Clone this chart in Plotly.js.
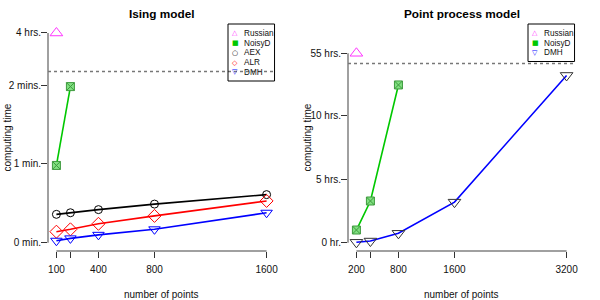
<!DOCTYPE html>
<html>
<head>
<meta charset="utf-8">
<script src="https://cdn.plot.ly/plotly-3.0.1.min.js"></script>
<style>html,body{margin:0;padding:0;background:#fff}#chart{width:600px;height:300px}</style>
</head>
<body>
<div id="chart"></div>
<script>
// ---------- data ----------
// Ising model panel (y in minutes; top of axis is broken, "4 hrs." sits at the last tick)
const isingX = [100, 200, 400, 800, 1600];
const isingXTickLabels = ['100', '', '400', '800', '1600'];
const isingYTickVals = [0, 1, 2, 2.66];
const isingYTickText = ['0 min.', '1 min.', '2 mins.', '4 hrs.'];
const isingBreak = 2.17;
const isingRussianX = [100];
const isingRussianY = [2.66];          // = "4 hrs." on the broken axis
const isingNoisyDX = [100, 200];
const isingNoisyDY = [0.98, 1.98];
const isingAEX = [0.36, 0.38, 0.42, 0.49, 0.61];
const isingALR = [0.14, 0.17, 0.24, 0.34, 0.53];
const isingDMH = [0.025, 0.055, 0.10, 0.17, 0.38];

// Point process panel (y in hours; "55 hrs." sits at the last tick)
const ppX = [200, 400, 800, 1600, 3200];
const ppXTickLabels = ['200', '', '800', '1600', '3200'];
const ppYTickVals = [0, 5, 10, 14.95];
const ppYTickText = ['0 hr.', '5 hrs.', '10 hrs.', '55 hrs.'];
const ppBreak = 14.15;
const ppRussianX = [200];
const ppRussianY = [14.95];            // = "55 hrs." on the broken axis
const ppNoisyDX = [200, 400, 800];
const ppNoisyDY = [1.0, 3.29, 12.45];
const ppDMH = [0.03, 0.13, 0.74, 3.2, 13.2];

const legendIsing = ['Russian', 'NoisyD', 'AEX', 'ALR', 'DMH'];
const legendPP = ['Russian', 'NoisyD', 'DMH'];

// ---------- styles ----------
const COL = {Russian: '#ff33ff', NoisyD: '#00c800', AEX: '#000000', ALR: '#ff0000', DMH: '#0000ff'};
const GLYPH = {Russian: '\u25B3', NoisyD: '\u25A0', AEX: '\u25CB', ALR: '\u25C7', DMH: '\u25BD'};
const FONT = 'Liberation Sans, Arial, sans-serif';

function line(x, y, color, symbol, size, mcolor, xa, ya, extra) {
  const t = {
    x: x, y: y, xaxis: xa, yaxis: ya, type: 'scatter', mode: 'lines+markers',
    line: {color: color, width: 1.6},
    marker: {symbol: symbol, size: size, color: mcolor || color, line: {width: 1, color: mcolor || color}},
    showlegend: false, hoverinfo: 'skip'
  };
  return Object.assign(t, extra || {});
}
const noisyMarker = {symbol: 'square-x', size: 8, color: '#80e080', line: {width: 1, color: '#3f9a3f'}};

const data = [
  // Ising
  Object.assign(line(isingNoisyDX, isingNoisyDY, COL.NoisyD, 'square-x', 8, null, 'x', 'y'), {marker: noisyMarker}),
  line(isingX, isingAEX, COL.AEX, 'circle-open', 8, null, 'x', 'y'),
  line(isingX, isingALR, COL.ALR, 'diamond-open', 10, null, 'x', 'y'),
  line(isingX, isingDMH, COL.DMH, 'triangle-down-open', 10, null, 'x', 'y'),
  {x: isingRussianX, y: isingRussianY, xaxis: 'x', yaxis: 'y', type: 'scatter', mode: 'markers',
   marker: {symbol: 'triangle-up-open', size: 11, color: COL.Russian, line: {width: 1}}, showlegend: false, hoverinfo: 'skip'},
  // Point process
  Object.assign(line(ppNoisyDX, ppNoisyDY, COL.NoisyD, 'square-x', 8, null, 'x2', 'y2'), {marker: noisyMarker}),
  line(ppX, ppDMH, COL.DMH, 'triangle-down-open', 11, '#333333', 'x2', 'y2'),
  {x: ppRussianX, y: ppRussianY, xaxis: 'x2', yaxis: 'y2', type: 'scatter', mode: 'markers',
   marker: {symbol: 'triangle-up-open', size: 11, color: COL.Russian, line: {width: 1}}, showlegend: false, hoverinfo: 'skip'}
];

// ---------- layout ----------
const plotTop = 24, plotBottom = 251, W = 600, H = 300;
const yDom = [(H - plotBottom) / H, (H - plotTop) / H];
const xDom1 = [48 / W, 275 / W];
const xDom2 = [348 / W, 575 / W];

function xaxis(dom, range, vals, text) {
  return {domain: dom, range: range, tickmode: 'array', tickvals: vals, ticktext: text,
    ticks: 'outside', ticklen: 6, tickwidth: 1, tickcolor: '#333', showline: false,
    showgrid: false, zeroline: false, tickfont: {family: FONT, size: 10, color: '#111'},
    ticklabelstandoff: 3, fixedrange: true};
}
function yaxis(anchor, range, vals, text) {
  return {domain: yDom, anchor: anchor, range: range, tickmode: 'array', tickvals: vals, ticktext: text,
    ticks: 'outside', ticklen: 6, tickwidth: 1, tickcolor: '#333', showline: false,
    showgrid: false, zeroline: false, tickfont: {family: FONT, size: 10, color: '#111'},
    ticklabelstandoff: -2, fixedrange: true};
}

const shapes = [];
const annotations = [];
function panelDecor(xa, ya, xVals, yVals, breakY) {
  // R-style axis lines spanning first to last tick
  shapes.push({type: 'line', xref: xa + ' domain', yref: ya, x0: 0, x1: 0,
    y0: yVals[0], y1: yVals[yVals.length - 1], line: {color: '#a0a0a0', width: 2}});
  shapes.push({type: 'line', xref: xa, yref: ya + ' domain', x0: xVals[0], x1: xVals[xVals.length - 1],
    y0: 0, y1: 0, line: {color: '#a0a0a0', width: 2}});
  // axis break line
  shapes.push({type: 'line', xref: xa + ' domain', yref: ya, x0: 0, x1: 1, y0: breakY, y1: breakY,
    line: {color: '#777', width: 1.5, dash: 'dot'}});
}
panelDecor('x', 'y', isingX, isingYTickVals, isingBreak);
panelDecor('x2', 'y2', ppX, ppYTickVals, ppBreak);

function legendBox(xa, ya, names) {
  const itemH = 9.75 / 227, firstY = (plotBottom - 33.3) / 227;
  const bottom = firstY - itemH * (names.length - 1) - 8.7 / 227;
  shapes.push({type: 'rect', xref: xa + ' domain', yref: ya + ' domain', x0: 0.793, x1: 0.998,
    y0: bottom, y1: 1.0, line: {color: '#000', width: 1}, fillcolor: 'rgba(0,0,0,0)'});
  names.forEach((n, i) => {
    const yy = firstY - i * itemH;
    annotations.push({xref: xa + ' domain', yref: ya + ' domain', x: 0.825, y: yy, xanchor: 'center', yanchor: 'middle',
      text: GLYPH[n], showarrow: false, font: {family: 'DejaVu Sans', size: 7, color: COL[n]}});
    annotations.push({xref: xa + ' domain', yref: ya + ' domain', x: 0.853, y: yy, xanchor: 'left', yanchor: 'middle',
      text: n, showarrow: false, font: {family: FONT, size: 8.2, color: '#111'}});
  });
}
legendBox('x', 'y', legendIsing);
legendBox('x2', 'y2', legendPP);

function titles(dom, title, xOffsetPx) {
  const cx = (dom[0] + dom[1]) / 2;
  annotations.push({xref: 'paper', yref: 'paper', x: cx, y: (H - 14) / H, xanchor: 'center', yanchor: 'middle',
    text: '<b>' + title + '</b>', showarrow: false, font: {family: FONT, size: 11.8, color: '#000'}});
  annotations.push({xref: 'paper', yref: 'paper', x: cx, y: (H - 294) / H, xanchor: 'center', yanchor: 'middle',
    text: 'number of points', showarrow: false, font: {family: FONT, size: 10, color: '#111'}});
  annotations.push({xref: 'paper', yref: 'paper', x: (xOffsetPx + 7) / W, y: (yDom[0] + yDom[1]) / 2,
    xanchor: 'center', yanchor: 'middle', textangle: -90,
    text: 'computing time', showarrow: false, font: {family: FONT, size: 10, color: '#111'}});
}
titles(xDom1, 'Ising model', 0);
titles(xDom2, 'Point process model', 300);

const layout = {
  width: W, height: H, margin: {l: 0, r: 0, t: 0, b: 0},
  paper_bgcolor: '#fff', plot_bgcolor: '#fff', showlegend: false,
  xaxis: xaxis(xDom1, [40, 1660], isingX, isingXTickLabels),
  yaxis: yaxis('x', [-0.105, 2.774], isingYTickVals, isingYTickText),
  xaxis2: Object.assign(xaxis(xDom2, [80, 3320], ppX, ppXTickLabels), {anchor: 'y2'}),
  yaxis2: yaxis('x2', [-0.655, 17.26], ppYTickVals, ppYTickText),
  shapes: shapes, annotations: annotations
};
layout.xaxis.anchor = 'y';

Plotly.newPlot('chart', data, layout, {staticPlot: true, displayModeBar: false});
</script>
</body>
</html>
